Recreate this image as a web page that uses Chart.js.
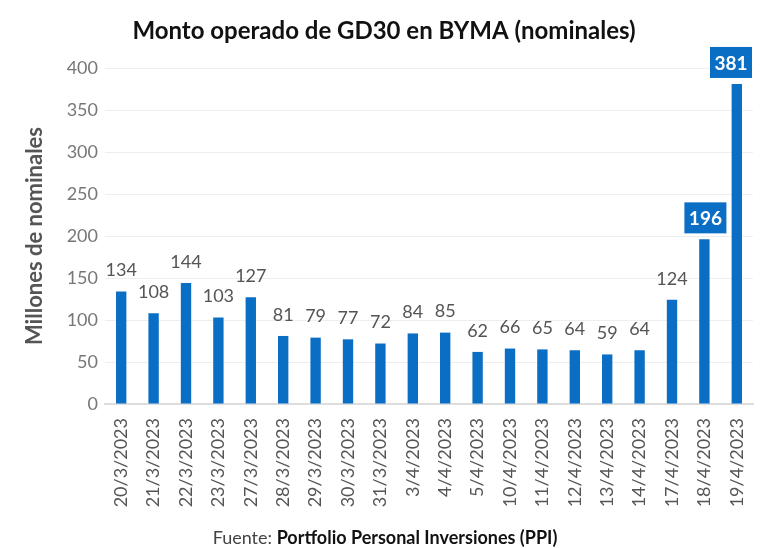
<!DOCTYPE html>
<html><head><meta charset="utf-8">
<script src="https://cdn.jsdelivr.net/npm/chart.js@4/dist/chart.umd.min.js"></script>
<style>html,body{margin:0;padding:0;background:#fff}#wrap{width:768px;height:548px}</style>
</head><body><div id="wrap"><canvas id="c" width="768" height="548"></canvas></div>
<script>
const categories = ["20/3/2023","21/3/2023","22/3/2023","23/3/2023","27/3/2023","28/3/2023","29/3/2023","30/3/2023","31/3/2023","3/4/2023","4/4/2023","5/4/2023","10/4/2023","11/4/2023","12/4/2023","13/4/2023","14/4/2023","17/4/2023","18/4/2023","19/4/2023"];
const values = [134,108,144,103,127,81,79,77,72,84,85,62,66,65,64,59,64,124,196,381];
const highlighted = [false,false,false,false,false,false,false,false,false,false,false,false,false,false,false,false,false,false,true,true];
const yTicks = [0,50,100,150,200,250,300,350,400];
const BLUE = '#0b6ec5';
const FONT = 'Lato, "Open Sans", sans-serif';

const labelsPlugin = {
  id: 'labels',
  afterDatasetsDraw(chart) {
    const ctx = chart.ctx;
    const meta = chart.getDatasetMeta(0);
    meta.data.forEach((bar, i) => {
      const v = values[i];
      ctx.save();
      ctx.textAlign = 'center';
      ctx.textBaseline = 'middle';
      if (highlighted[i]) {
        const w = 42, h = 31;
        let x = bar.x - w/2 + 1;
        if (x + w > chart.width - 16) x = chart.width - 16 - w;
        const y = bar.y - 6 - h;
        ctx.fillStyle = BLUE;
        ctx.fillRect(x, y, w, h);
        ctx.fillStyle = '#fff';
        ctx.font = 'bold 19px ' + FONT;
        ctx.fillText(String(v), x + w/2, y + h/2 + 1);
      } else {
        ctx.fillStyle = '#555';
        ctx.font = '18px ' + FONT;
        ctx.fillText(String(v), bar.x, bar.y - 21);
      }
      ctx.restore();
    });
  }
};
const textPlugin = {
  id: 'texts',
  afterDraw(chart) {
    const ctx = chart.ctx;
    ctx.save();
    ctx.textBaseline = 'middle';
    ctx.textAlign = 'center';
    ctx.fillStyle = '#111';
    ctx.font = 'bold 24px ' + FONT;
    ctx.fillText('Monto operado de GD30 en BYMA (nominales)', 384, 31);
    ctx.textAlign = 'left';
    const a = 'Fuente: ', b = 'Portfolio Personal Inversiones (PPI)';
    ctx.font = '18px ' + FONT;
    const wa = ctx.measureText(a).width;
    ctx.font = 'bold 18px ' + FONT;
    const wb = ctx.measureText(b).width;
    const x0 = 385 - (wa + wb)/2;
    ctx.fillStyle = '#444';
    ctx.font = '18px ' + FONT;
    ctx.fillText(a, x0, 538);
    ctx.fillStyle = '#111';
    ctx.font = 'bold 18px ' + FONT;
    ctx.fillText(b, x0 + wa, 538);
    ctx.restore();
  }
};

new Chart(document.getElementById('c'), {
  type: 'bar',
  data: { labels: categories, datasets: [{ data: values, backgroundColor: BLUE, barPercentage: 0.32, categoryPercentage: 1 }] },
  options: {
    responsive: false, animation: false,
    layout: { padding: { top: 68, right: 15, bottom: 32, left: 22 } },
    plugins: { legend: { display: false }, tooltip: { enabled: false }, title: { display: false } },
    scales: {
      x: { grid: { display: false }, border: { color: '#dddddd', width: 2 },
        afterFit(s){ s.height = 112; },
        ticks: { color: '#555', font: { family: FONT, size: 18 }, maxRotation: 90, minRotation: 90, padding: 6, autoSkip: false } },
      y: { min: 0, max: 400, afterBuildTicks(s){ s.ticks = yTicks.map(v=>({value:v})); },
        afterFit(s){ s.width = 83; },
        grid: { color: '#eeeeee', drawTicks: false }, border: { display: false },
        ticks: { color: '#777', font: { family: FONT, size: 18 }, padding: 7 },
        title: { display: true, text: 'Millones de nominales', color: '#555', font: { family: FONT, size: 22, weight: 'bold' }, padding: { top: 0, bottom: 0 } } }
    }
  },
  plugins: [labelsPlugin, textPlugin]
});
</script></body></html>
